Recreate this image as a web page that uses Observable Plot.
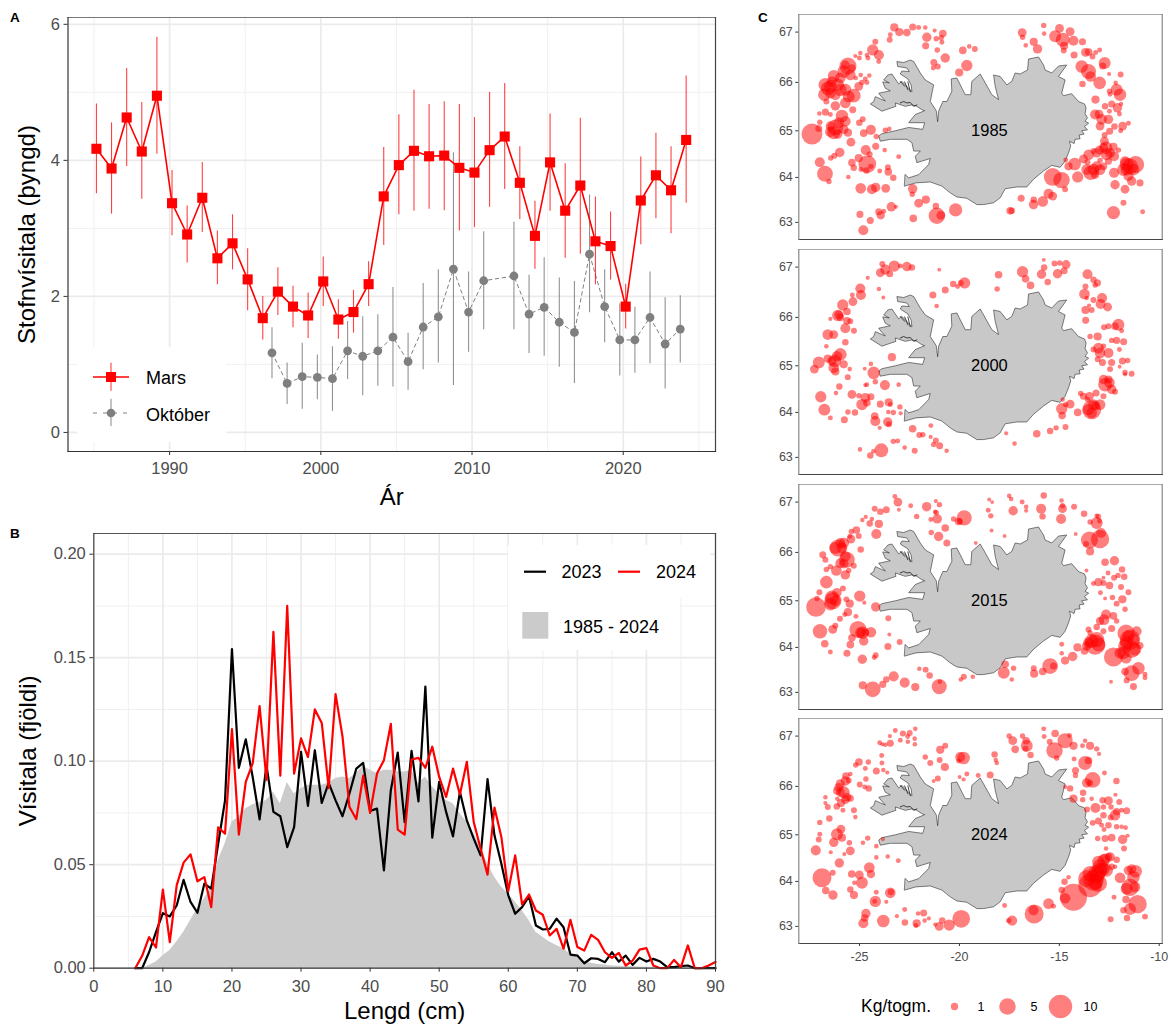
<!DOCTYPE html>
<html lang="is">
<head>
<meta charset="utf-8">
<title>Stofnvísitala</title>
<script src="https://cdn.jsdelivr.net/npm/d3@7"></script>
<script src="https://cdn.jsdelivr.net/npm/@observablehq/plot@0.6"></script>
<style>
html,body{margin:0;padding:0;background:#fff;}
#page{position:relative;width:1173px;height:1025px;overflow:hidden;font-family:"Liberation Sans",Arial,sans-serif;background:#fff;}
#page svg{position:absolute;display:block;overflow:visible;}
.tag{position:absolute;font-weight:bold;font-size:13.5px;line-height:14px;color:#000;}
.keytitle{position:absolute;font-size:17.5px;line-height:20px;color:#000;}
</style>
</head>
<body>
<div id="page"></div>
<script>
// ---------- Panel A ----------
const marsYears = d3.range(1985, 2025);
const marsValue = [4.17,3.88,4.63,4.13,4.95,3.37,2.91,3.45,2.56,2.78,2.25,1.68,2.07,1.85,1.72,2.22,1.66,1.77,2.18,3.47,3.93,4.14,4.06,4.07,3.89,3.82,4.15,4.35,3.67,2.89,3.97,3.26,3.63,2.81,2.74,1.85,3.41,3.78,3.56,4.30];
const marsLow = [3.51,3.21,3.91,3.43,4.09,2.89,2.49,2.94,2.17,2.39,1.79,1.36,1.72,1.54,1.38,1.85,1.37,1.46,1.85,2.75,3.20,3.25,3.28,3.26,2.96,3.01,3.31,3.57,3.13,2.40,3.25,2.56,2.62,2.17,2.24,1.52,2.76,3.14,2.92,3.37];
const marsHigh = [4.83,4.55,5.35,4.85,5.81,3.85,3.33,3.97,2.96,3.20,2.70,2.00,2.42,2.15,2.05,2.58,1.95,2.09,2.51,4.19,4.67,5.03,4.82,4.86,4.82,4.63,5.00,5.13,4.20,3.40,4.68,3.95,4.62,3.46,3.24,2.18,4.05,4.40,4.20,5.24];
const octYears = [1997,1998,1999,2000,2001,2002,2003,2004,2005,2006,2007,2008,2009,2010,2011,2013,2014,2015,2016,2017,2018,2019,2020,2021,2022,2023,2024];
const octValue = [1.17,0.72,0.82,0.81,0.79,1.20,1.12,1.20,1.40,1.04,1.55,1.70,2.40,1.77,2.23,2.30,1.74,1.84,1.62,1.47,2.62,1.85,1.36,1.36,1.69,1.30,1.52];
const octLow = [0.79,0.41,0.34,0.48,0.31,0.78,0.54,0.68,0.67,0.62,0.92,1.02,0.69,1.18,1.51,1.51,1.16,1.12,0.96,0.72,1.76,1.32,0.83,0.87,1.01,0.64,1.02];
const octHigh = [1.54,1.02,1.31,1.14,1.26,1.63,1.70,1.73,2.13,1.46,2.19,2.39,4.11,2.36,2.95,3.09,2.31,2.57,2.27,2.22,3.49,2.39,1.89,1.84,2.36,1.98,2.01];
const marsDodge = 0.16, octDodge = -0.23;
const aTicksX = [1990,2000,2010,2020], aMinorX = [1985,1995,2005,2015,2025];
const aTicksY = [0,2,4,6], aMinorY = [1,3,5];

// ---------- Panel B ----------
const lengths = d3.range(6, 91);
const len2023 = [0,0,0.0077,0.0174,0.0266,0.025,0.0303,0.0427,0.032,0.0268,0.0408,0.0384,0.06,0.0811,0.1542,0.0968,0.1106,0.0924,0.0719,0.098,0.0755,0.0734,0.0585,0.0682,0.1045,0.0784,0.1053,0.0798,0.0895,0.0811,0.0734,0.0843,0.0964,0.0992,0.076,0.0771,0.0473,0.086,0.1042,0.0706,0.105,0.0806,0.136,0.0631,0.09,0.0755,0.0637,0.0851,0.0714,0.0626,0.0545,0.0913,0.0642,0.0505,0.0352,0.0263,0.0295,0.0347,0.0206,0.0187,0.019,0.0239,0.0198,0.0066,0.0061,0.0024,0.0048,0.0045,0.0029,0.0077,0.0032,0.0061,0.0016,0.005,0.0032,0.0045,0.0032,0.0005,0.0005,0.001,0.0013,0,0,0,0];
const len2024 = [0,0.006,0.015,0.01,0.038,0.0126,0.04,0.051,0.055,0.042,0.044,0.0295,0.068,0.065,0.1155,0.0645,0.09,0.099,0.1266,0.091,0.1625,0.093,0.175,0.094,0.111,0.102,0.125,0.1185,0.087,0.1324,0.112,0.078,0.072,0.093,0.075,0.094,0.1005,0.118,0.067,0.0645,0.1008,0.1016,0.0968,0.107,0.0924,0.0827,0.0964,0.0839,0.0997,0.0706,0.0577,0.0452,0.0776,0.0634,0.0373,0.0545,0.0308,0.0356,0.0279,0.0258,0.0158,0.019,0.0094,0.0234,0.0102,0.0085,0.0161,0.0137,0.0077,0.005,0.0074,0.0013,0.0037,0.009,0.0097,0.0013,0,0,0.004,0.0005,0.011,0,0,0.0013,0.003];
const lenMean = [0,0,0.0013,0.003,0.006,0.0085,0.0126,0.0174,0.023,0.0287,0.0335,0.039,0.052,0.06,0.0706,0.073,0.077,0.079,0.08,0.081,0.085,0.0795,0.0897,0.0843,0.0868,0.0884,0.0884,0.0884,0.0895,0.0916,0.0924,0.0916,0.094,0.0977,0.0956,0.094,0.0956,0.0956,0.0948,0.0948,0.0956,0.0892,0.0924,0.0876,0.0843,0.0811,0.0795,0.0747,0.0706,0.065,0.0585,0.0505,0.044,0.0392,0.036,0.032,0.0279,0.023,0.0174,0.015,0.0126,0.011,0.0094,0.0069,0.005,0.0032,0.0024,0.0018,0.0015,0.0011,0.001,0.0008,0.0007,0.0006,0.0005,0.0004,0.0003,0.0002,0.0002,0.0001,0.0001,0,0,0,0];
const bTicksX = d3.range(0, 100, 10), bMinorX = d3.range(5, 95, 10);
const bTicksY = [0,0.05,0.1,0.15,0.2], bMinorY = [0.025,0.075,0.125,0.175];

// ---------- Panel C : Iceland outline (lon, lat) ----------
const iceland = [[-22.74,63.81],[-22.18,63.88],[-21.46,63.9],[-20.88,63.81],[-20.46,63.66],[-20.13,63.57],[-19.63,63.54],[-19.13,63.4],[-18.79,63.4],[-18.29,63.44],[-17.96,63.55],[-17.71,63.75],[-17.13,63.79],[-16.63,63.79],[-16.29,63.96],[-15.79,64.14],[-15.38,64.26],[-14.96,64.22],[-14.71,64.35],[-14.54,64.53],[-14.43,64.68],[-14.49,64.78],[-14.26,64.73],[-14.21,64.82],[-13.96,64.83],[-14.01,64.91],[-13.76,64.93],[-13.88,65],[-13.59,65.02],[-13.74,65.09],[-13.53,65.16],[-13.71,65.2],[-13.59,65.27],[-13.71,65.36],[-13.66,65.48],[-13.74,65.56],[-14.04,65.61],[-14.38,65.77],[-14.79,65.73],[-14.88,65.78],[-14.71,66.05],[-15.04,66.12],[-14.63,66.35],[-15.04,66.33],[-15.38,66.19],[-15.71,66.25],[-15.79,66.35],[-16.04,66.51],[-16.54,66.47],[-16.59,66.25],[-16.96,66.17],[-17.21,66.19],[-17.38,66.02],[-17.63,65.95],[-17.96,66.12],[-18.29,66.15],[-18.21,65.92],[-18.04,65.65],[-18.38,65.75],[-18.79,66.05],[-18.96,66.17],[-19.38,66.02],[-19.43,65.75],[-19.71,65.75],[-20.13,66.09],[-20.41,66.07],[-20.38,65.82],[-20.63,65.61],[-20.83,65.61],[-21.04,65.41],[-21.09,65.19],[-21.16,65.42],[-21.46,65.61],[-21.29,65.95],[-21.71,66.05],[-21.96,66.19],[-22.29,66.42],[-22.46,66.45],[-22.79,66.4],[-23.13,66.42],[-23.09,66.32],[-22.63,66.29],[-22.51,66.22],[-22.88,66.23],[-22.96,66.17],[-22.58,66.07],[-22.41,65.94],[-22.38,65.81],[-22.63,65.92],[-22.88,66.02],[-23.04,65.97],[-23.21,66.07],[-23.38,66.17],[-23.58,66.15],[-23.79,66.05],[-23.51,65.99],[-23.84,66.01],[-23.71,65.88],[-23.46,65.83],[-24.04,65.78],[-23.91,65.71],[-23.71,65.62],[-24.21,65.71],[-24.29,65.61],[-24.46,65.56],[-23.88,65.41],[-23.18,65.51],[-23.21,65.58],[-22.71,65.51],[-22.38,65.54],[-22.13,65.51],[-21.88,65.44],[-21.74,65.42],[-22.21,65.34],[-22.54,65.17],[-21.74,65.17],[-21.84,65.03],[-22.54,65.07],[-23.21,65],[-23.88,64.94],[-24.04,64.89],[-23.96,64.78],[-23.46,64.82],[-22.63,64.82],[-22.38,64.75],[-22.29,64.57],[-21.96,64.57],[-22.21,64.46],[-22.13,64.32],[-21.46,64.41],[-21.54,64.28],[-22.04,64.06],[-22.54,63.99],[-22.71,64.06]];
const fjordLines = [[[-22.96,66.02],[-22.74,65.92]],[[-22.74,66.01],[-22.58,65.85]],[[-22.58,66.01],[-22.46,65.81]],[[-22.96,65.58],[-22.79,65.61],[-22.63,65.58],[-22.46,65.59],[-22.29,65.51],[-22.13,65.54]]];

// ---------- Panel C : stations [lon, lat, kg/tow] ----------
const st1985 = [[-23.26,67.09,.98],[-23.01,67,.98],[-22.63,66.99,.81],[-22.34,67.1,.66],[-22.04,67.09,.2],[-21.71,67.09,.13],[-23.49,66.85,.4],[-23.46,66.95,.2],[-21.63,66.9,1.37],[-21.69,66.73,.66],[-21.24,67.03,.07],[-21.16,66.87,.29],[-20.83,66.97,.81],[-20.91,66.89,.29],[-20.88,66.8,.2],[-21.11,66.65,.29],[-19.83,66.64,.81],[-19.51,66.72,.13],[-19.23,66.67,.4],[-20.71,66.49,1.37],[-21.28,66.4,.66],[-21.08,66.32,.4],[-21.31,66.29,.2],[-19.63,66.34,2.08],[-20.01,66.2,.98],[-24.21,66.81,.4],[-24.34,66.65,2.08],[-24.03,66.55,1.6],[-24.04,66.42,.2],[-24.58,66.49,.2],[-24.63,66.55,.13],[-24.96,66.59,.13],[-25.21,66.53,.07],[-25.01,66.49,.2],[-25.58,66.33,5.07],[-25.79,66.22,2.63],[-25.38,66.29,.81],[-26.29,66.13,2.35],[-26.71,65.95,3.25],[-26.59,65.88,3.25],[-26.09,65.95,2.63],[-25.71,65.85,2.35],[-25.29,65.73,3.25],[-26.76,65.75,2.63],[-26.21,65.75,1.83],[-25.71,65.58,1.83],[-26.21,65.52,1.37],[-26.66,65.61,.4],[-25.04,65.92,1.17],[-24.88,66,.29],[-24.71,66.07,.2],[-24.51,66.14,.13],[-24.63,66,.2],[-24.94,66.15,.13],[-25.19,66.09,.13],[-25.34,65.44,.66],[-27.01,65.36,.13],[-26.71,65.39,.66],[-26.46,65.34,.2],[-25.88,65.31,2.63],[-24.84,65.24,.4],[-25.01,65.17,.52],[-26.99,65.18,.29],[-26.21,65.07,4.3],[-26.29,64.96,2.93],[-27.38,64.93,7.8],[-27.04,65.05,.66],[-25.79,65.03,1.37],[-25.58,64.96,.98],[-24.79,64.95,.81],[-24.43,65.02,1.6],[-25.43,64.76,1.17],[-24.16,64.88,.29],[-23.71,65.01,.29],[-23.51,65.04,.13],[-24.19,64.67,.66],[-23.74,64.59,.13],[-23.04,64.45,.2],[-25.99,64.54,1.37],[-26.26,64.47,.4],[-26.44,64.42,.29],[-24.69,64.59,1.6],[-24.49,64.5,.4],[-25.04,64.42,.98],[-25.38,64.32,.81],[-24.61,64.29,5.5],[-25.29,64.21,.52],[-24.66,64.15,.52],[-24.93,64.17,.2],[-24.43,64.24,.29],[-26.99,64.33,1.6],[-26.73,64.08,4.3],[-26.53,63.91,.29],[-25.56,64.01,.13],[-23.99,64.14,.2],[-23.58,64.22,.4],[-23.56,64.12,.81],[-23.31,63.99,.52],[-24.94,63.76,1.83],[-24.38,63.74,1.6],[-24.19,63.78,1.37],[-23.69,63.76,1.17],[-22.34,63.75,1.37],[-22.36,63.63,.29],[-21.68,63.51,.98],[-22.04,63.43,1.17],[-23.41,63.35,1.37],[-23.18,63.35,.07],[-24.98,63.18,.66],[-24.04,63.24,.66],[-23.94,63.16,.98],[-23.79,63.25,.2],[-24.46,63.04,.66],[-24.81,62.82,1.6],[-22.31,63.09,.81],[-21.18,63.37,.52],[-21.13,63.15,4.67],[-20.93,63.16,1.17],[-20.19,63.28,2.93],
[-16.86,66.99,1.17],[-16.84,66.9,.29],[-15.78,67.13,.29],[-15.76,66.97,.13],[-16.28,66.81,.98],[-16.68,66.74,.13],[-16.09,66.67,1.37],[-15.21,66.92,2.35],[-14.99,67.07,1.17],[-14.46,67.01,1.17],[-14.83,66.85,3.25],[-14.76,66.73,.98],[-14.29,66.83,1.6],[-14.78,66.64,.4],[-13.84,66.81,.66],[-13.69,66.6,1.17],[-13.53,66.61,.81],[-13.34,66.52,.4],[-13.18,66.6,.2],[-12.98,66.65,.2],[-14.26,66.55,.66],[-12.73,66.39,2.35],[-12.83,66.33,.66],[-13.88,66.32,2.63],[-13.54,66.22,3.93],[-13.43,66.12,1.83],[-12.51,66.17,.07],[-11.93,66.16,.4],[-12.98,65.99,2.63],[-13.84,65.97,.52],[-12.18,65.99,.13],[-12.13,65.85,2.35],[-12.49,65.82,.29],[-12.46,65.76,.2],[-11.96,65.75,2.63],[-13.19,65.65,.98],[-12.71,65.51,.52],[-12.38,65.56,.66],[-12.09,65.48,1.37],[-12.49,65.41,.2],[-13.21,65.34,1.6],[-13.01,65.35,1.17],[-12.88,65.24,1.83],[-12.54,65.24,1.37],[-12.96,65.1,1.17],[-12.24,65.09,.52],[-11.83,65.1,1.17],[-11.54,65.16,.2],[-11.93,65,.2],[-12.48,64.99,.66],[-12.73,64.91,.4],[-12.74,64.78,1.17],[-11.99,65.35,.2],[-11.91,65.56,.13],
[-12.66,64.64,2.63],[-12.29,64.66,.98],[-12.99,64.59,1.17],[-13.29,64.57,.4],[-13.53,64.49,1.83],[-13.79,64.4,1.17],[-13.59,64.33,.4],[-12.63,64.5,2.35],[-12.04,64.59,.29],[-12.26,64.46,1.6],[-12.96,64.37,.29],[-13.43,64.1,3.6],[-12.96,64.17,1.83],[-13.21,64.06,.98],[-12.54,64.35,.66],[-12.79,64.24,.81],[-14.23,64.29,2.63],[-14.54,64.24,.98],[-14.68,64.38,.2],[-14.08,64.01,2.08],[-12.26,64.1,1.6],[-11.63,64.28,3.25],[-11.46,64.24,4.3],[-11.18,64.28,5.07],[-11.79,64.17,2.63],[-11.54,64.03,1.6],[-11.38,63.92,1.37],[-10.96,63.88,.66],[-12.21,63.84,1.37],[-11.71,63.74,1.17],[-15.33,64.01,5.5],[-14.89,63.94,4.67],[-14.71,63.74,.4],[-15.54,63.64,1.6],[-15.33,63.59,1.17],[-15.83,63.47,1.83],[-16.28,63.51,.52],[-16.29,63.4,1.37],[-16.91,63.54,.66],[-17.46,63.26,.81],[-17.38,63.26,.52],[-11.79,63.44,.4],[-12.29,63.22,2.93],[-10.83,63.24,.2],
[-26.46,65.92,2.63],[-25.96,66.09,1.83],[-25.46,66.15,1.83],[-25.71,66.35,1.17],[-26.38,66.02,1.6],[-25.54,65.71,2.35],[-26.46,65.78,1.83],[-25.96,65.85,2.63],[-26.04,65.17,1.83],[-25.71,65.2,1.83],[-26.46,65.1,1.37],[-26.46,64.98,1.83],[-26.09,64.93,1.37],[-13.13,64.53,1.37],[-12.79,64.64,1.37],[-12.46,64.53,1.6],[-13.29,64.17,2.35],[-13.63,64.17,1.83],[-13.13,64.24,1.6],[-11.63,64.17,2.35],[-11.29,64.17,2.35],[-11.71,64.35,1.6]];

const st2000 = [[-23.86,67.06,.4],[-23.26,67.02,2.08],[-23.71,66.95,1.6],[-23.96,66.89,1.17],[-23.49,66.87,.66],[-22.96,67.02,.2],[-22.63,67.01,1.37],[-22.38,66.99,.52],[-24.59,66.79,.07],[-21.01,66.95,.03],[-24.96,66.58,1.6],[-24.93,66.45,1.6],[-24.03,66.57,.13],[-23.81,66.4,.03],[-25.36,66.45,.2],[-25.33,66.32,1.17],[-25.84,66.25,2.08],[-25.63,66.12,.81],[-26.09,66.04,2.08],[-25.96,66,.81],[-25.63,65.93,.81],[-26.46,65.97,.07],[-25.46,65.92,.4],[-25.71,65.78,1.6],[-25.28,65.73,.4],[-26.59,65.65,1.83],[-26.29,65.65,1.17],[-25.71,65.49,.52],[-26.66,65.41,.13],[-25.96,65.24,2.63],[-26.59,65.15,.98],[-27.04,65.07,2.35],[-27.26,64.93,1.17],[-26.24,65.1,2.63],[-26.29,64.96,1.83],[-26.21,64.88,.98],[-25.79,65.03,.98],[-25.49,64.93,.13],[-25.59,64.76,.4],[-24.29,64.85,2.63],[-24.43,65.04,.13],[-23.38,65.18,.98],[-24.74,64.94,.03],[-24.21,64.66,.29],[-24.63,64.6,.13],[-24.71,64.59,.07],[-23.73,64.59,1.6],[-23.04,64.6,.13],[-26.01,64.56,.52],[-26.18,64.42,.13],[-26.94,64.34,2.08],[-26.76,64.06,2.35],[-26.46,63.88,.2],[-25.38,64.39,1.17],[-25.03,64.36,.29],[-24.71,64.32,1.37],[-24.88,64.17,2.08],[-24.63,64.21,.81],[-24.43,64.34,.66],[-23.96,64.18,.66],[-23.54,64.22,.98],[-23.46,64.17,.2],[-22.98,64.12,.29],[-23.56,64.01,.13],[-23.31,64,.29],[-22.94,63.98,.07],[-25.58,64.01,.29],[-25.23,64,.52],[-25.76,63.84,.66],[-24.24,63.92,.81],[-24.21,63.81,1.6],[-23.99,63.66,.07],[-23.59,63.79,1.37],[-23.53,63.74,.4],[-22.34,63.64,.81],[-21.43,63.71,.2],[-22.01,63.5,.4],[-21.83,63.51,.29],[-24.98,63.18,.13],[-23.31,63.36,.29],[-23.09,63.37,.2],[-24.31,63.14,.13],[-23.91,63.16,3.25],[-24.46,63.04,.52],[-22.74,63.22,.13],[-22.24,63.15,.4],[-21.44,63.46,.07],[-21.18,63.38,.4],[-21.29,63.29,.29],[-20.99,63.26,.66],[-20.64,63.15,.13],
[-21.33,66.45,.66],[-20.71,66.55,.66],[-20.31,66.67,.52],[-20.09,66.62,.2],[-19.93,66.69,.4],[-19.74,66.69,2.08],[-21.14,66.23,.13],[-18.11,66.57,.29],[-18.04,66.85,.81],[-16.84,66.91,2.08],[-16.69,66.77,.81],[-16.44,66.64,.81],[-15.78,67.14,.03],[-15.76,66.99,.52],[-15.89,66.86,1.37],[-15.24,67.07,.4],[-14.98,67.08,.29],[-14.66,67.05,1.17],[-15.09,66.87,1.37],[-14.76,66.93,.66],[-15.58,66.71,.52],[-13.59,66.86,1.6],[-13.29,66.75,.52],[-13.09,66.69,.66],[-13.21,66.65,.29],[-13.69,66.62,.4],[-13.74,66.47,1.83],[-13.63,66.39,.13],[-13.29,66.35,.4],[-12.86,66.39,1.6],[-12.93,66.27,1.6],[-12.58,66.21,1.17],[-13.69,66.15,.98],[-13.38,66.15,.4],[-13.51,66.24,.07],[-13.68,65.94,.66],[-13.46,65.61,.29],[-13.08,65.61,.98],[-12.76,65.8,.4],[-12.54,65.82,.4],[-12.21,65.82,.81],[-12.04,65.85,2.35],[-11.88,65.73,.2],[-12.38,65.53,.29],[-12.13,65.53,.66],[-11.78,65.5,.66],[-12.79,65.41,.29],[-13.04,65.37,1.83],[-13.29,65.34,.4],[-12.96,65.27,1.83],[-12.54,65.27,1.6],[-13.08,65.14,.4],[-12.84,65.07,.66],[-12.46,64.93,.4],[-12.38,65.07,.66],[-11.84,65.1,.66],[-11.58,65.11,.29],[-11.99,65.34,.2],[-11.71,64.86,.29],[-11.71,64.82,.07],[-11.38,64.83,.4],[-11.98,64.98,.03],
[-12.71,64.6,3.25],[-12.49,64.64,1.83],[-12.38,64.5,1.37],[-12.21,64.45,.4],[-13.16,64.42,.66],[-12.79,64.35,.4],[-12.96,64.17,1.83],[-13.18,64.14,1.17],[-13.38,64.06,6.36],[-13.54,64.06,2.08],[-13.49,64.35,1.17],[-13.79,64.35,.66],[-13.93,64.41,.29],[-13.59,64.28,.29],[-14.08,64,.81],[-14.46,64.18,1.17],[-14.68,64.17,.29],[-14.83,64.28,.13],[-14.88,64.08,2.08],[-14.86,63.93,.81],[-14.69,63.68,.4],[-15.16,63.66,.29],[-15.46,63.59,.52],[-16.13,63.53,.81],[-17.66,63.54,.07],[-17.24,63.31,.13],
[-13.29,64.17,1.83],[-12.79,64.71,1.37],[-12.54,64.71,.98],[-13.38,63.99,1.83],[-26.04,66.05,1.17],[-26.38,65.1,1.37],[-26.13,65.2,1.83]];

const st2015 = [[-23.23,67.11,.2],[-23.08,67,1.17],[-22.44,66.93,.2],[-23.03,66.85,.03],[-24.24,66.87,.4],[-23.96,66.81,.52],[-23.66,66.85,.66],[-21.64,66.91,1.37],[-21.18,67.02,.07],[-21,66.95,.29],[-21.16,66.79,.29],[-21.21,66.81,.13],[-22.14,66.72,.29],[-21.43,66.66,.2],[-21.11,66.67,1.37],[-20.29,66.67,.29],[-20.04,66.62,.81],[-19.76,66.69,3.93],[-19.98,66.62,.4],[-20.71,66.49,.81],[-21.41,66.4,.29],[-21.04,66.32,1.37],[-20.63,66.19,.66],[-24.69,66.71,.07],[-24.86,66.65,.13],[-24.38,66.67,.13],[-24.49,66.58,.52],[-24.03,66.57,.98],[-25.16,66.45,.81],[-25.41,66.42,.29],[-25.49,66.32,.2],[-25.04,66.33,.4],[-24.16,66.37,1.6],[-25.43,66.27,1.17],[-25.79,66.19,1.83],[-26.08,66.09,5.07],[-25.88,66.09,1.83],[-24.94,66.06,.52],[-25.63,65.85,4.3],[-25.79,65.77,1.37],[-25.29,65.73,.4],[-26.84,65.95,.66],[-26.71,65.85,.4],[-26.16,65.63,1.83],[-26.46,65.71,.29],[-26.66,65.65,.29],[-25.71,65.54,1.37],[-25.54,65.63,.29],[-26.66,65.39,2.63],[-27.01,65.18,.4],[-25.83,65.26,.4],[-26.13,65.17,1.37],[-26.33,65,5.07],[-26.21,65,1.83],[-27.18,64.87,6.8],[-27.13,65.05,.29],[-25.66,65.03,.4],[-25.49,64.94,.98],[-24.99,65.1,2.08],[-24.76,64.96,.07],[-24.19,64.87,1.37],[-25.58,64.76,.98],[-25.74,64.71,.2],[-25.18,64.67,.2],[-23.56,64.63,.4],[-25.98,64.62,.4],[-26.34,64.39,1.17],[-26.21,64.47,.4],[-26.98,64.35,3.6],[-25.08,64.39,5.07],[-24.84,64.32,2.63],[-24.71,64.32,.81],[-24.43,64.33,1.83],[-25.38,64.21,.81],[-24.79,64.14,1.37],[-25.46,64.06,.81],[-26.74,64.08,.81],[-26.46,63.9,.2],[-23.51,64.28,.03],[-22.99,64.12,.4],[-23.58,64.02,.66],[-25.63,63.87,.66],[-24.86,63.74,1.37],[-24.19,63.83,.4],[-24.26,63.78,.2],[-22.01,63.53,.13],[-21.69,63.51,.4],[-21.49,63.38,.52],[-23.29,63.36,1.6],[-23.66,63.29,.52],[-23.84,63.18,.66],[-22.74,63.22,1.6],[-22.21,63.12,.98],[-24.84,63.16,.98],[-24.34,63.07,4.3],[-21.01,63.13,3.93],[-20.98,63.24,.13],[-19.93,63.29,.13],[-19.78,63.35,.4],[-19.33,63.35,.13],
[-18.51,67.05,.03],[-18.36,67,.01],[-18.56,66.84,.2],[-18.43,66.73,.29],[-18.39,66.44,.03],[-17.74,66.33,.03],[-19.18,66.19,.02],[-17.51,67.12,.13],[-17.41,67.06,.13],[-16.86,67,.2],[-16.66,66.91,.13],[-16.66,66.83,.07],[-17.31,66.83,1.37],[-15.78,67.13,.52],[-15.91,66.87,1.6],[-15.84,66.72,.52],[-14.89,67.03,.13],[-14.84,66.93,.29],[-14.84,66.87,1.17],[-14.91,66.67,1.6],[-14.26,66.91,.4],[-13.76,66.77,.52],[-13.13,66.73,.13],[-13.04,66.72,.29],[-12.99,66.63,.2],[-13.13,66.59,2.35],[-13.46,66.61,.29],[-14.18,66.37,.03],[-13.49,66.25,5.07],[-12.96,66.27,5.9],[-12.91,66.39,1.6],[-13.66,66.17,.4],[-13.46,66.02,.98],[-12.71,65.8,.81],[-12.24,65.83,1.37],[-11.86,65.65,.52],[-12.56,65.58,.2],[-11.75,65.5,.52],[-12.06,65.53,.29],[-12.26,65.48,.4],[-12.79,65.48,.03],[-13.29,65.36,.2],[-13.04,65.39,.98],[-12.79,65.37,.4],[-12.49,65.32,.81],[-11.91,65.29,.4],[-12.94,65.17,.2],[-12.34,65.07,.29],[-11.54,65.18,.4],[-11.84,65.03,.98],[-12.13,64.94,.4],[-11.71,64.82,.29],[-12.71,65.05,.02],[-13.64,65.63,.03],
[-12.66,64.71,1.6],[-12.29,64.68,.81],[-12.76,64.6,1.83],[-12.96,64.57,.98],[-12.13,64.57,.29],[-13.13,64.44,.52],[-12.79,64.35,.4],[-12.38,64.41,.66],[-13.54,64.39,.4],[-13.46,64.32,.29],[-13.21,64.06,7.3],[-13.13,64.17,3.93],[-13.54,64.1,1.83],[-13.74,63.92,.81],[-14.09,64,.98],[-11.66,64.31,5.07],[-11.46,64.17,7.3],[-11.13,64.35,1.6],[-11.63,64.1,3.25],[-11.38,63.96,5.07],[-11.79,63.88,2.63],[-11.66,63.77,2.08],[-12.29,63.79,6.36],[-10.96,64.04,.66],[-11.04,63.54,2.63],[-11.38,63.43,4.3],[-11.71,63.47,.81],[-11.63,63.27,.4],[-11.29,63.13,.66],[-10.71,63.41,.2],[-10.71,63.33,.2],[-12.41,63.24,.02],[-14.88,64.07,.2],[-14.88,63.87,.13],[-14.71,63.71,.98],[-14.33,63.8,1.37],[-15.46,63.59,4.3],[-15.29,63.59,.66],[-15.83,63.47,.81],[-16.28,63.54,.4],[-16.26,63.42,.98],[-17.71,63.63,.81],[-17.78,63.44,2.35],[-17.29,63.54,.29],[-17.38,63.29,.13],
[-26.21,66.09,2.35],[-25.96,66.19,1.6],[-25.71,65.92,1.83],[-25.96,65.78,1.6],[-26.38,65.07,3.25],[-26.46,64.93,2.63],[-24.96,64.32,1.83],[-13.38,64.14,3.25],[-13.04,64.06,3.25],[-13.63,64.03,1.37],[-11.54,64.24,2.35],[-11.71,64.03,3.25],[-11.29,64.17,2.35],[-11.21,63.96,2.63],[-11.96,63.88,2.08]];

const st2024 = [[-23.21,67.11,.2],[-22.83,67.05,.4],[-22.49,67.06,.4],[-22.21,67.14,.13],[-22.59,66.99,.2],[-22.96,66.92,.2],[-22.24,66.95,.13],[-22.58,66.89,.13],[-22.23,66.84,.13],[-23.48,67,.07],[-23.46,66.86,.66],[-23.71,66.83,.13],[-23.99,66.87,.2],[-23.86,66.84,.07],[-21.71,66.59,.29],[-21.46,66.47,.4],[-20.96,66.73,.98],[-20.71,66.81,.4],[-20.99,66.53,.4],[-20.73,66.39,.98],[-21.08,66.16,.4],[-21.29,66.11,.03],[-19.96,66.59,1.6],[-19.79,66.57,2.63],[-20.04,66.51,.2],[-19.63,66.25,.2],[-19.79,66.14,.07],[-19.99,66.19,.03],[-19.06,66.22,.2],[-18.46,66.23,.66],[-18.24,66.64,.52],[-18.18,66.53,.13],[-18.13,66.47,.13],[-24.56,66.49,.29],[-23.89,66.62,.2],[-23.88,66.47,.2],[-25.03,66.49,.81],[-25.19,66.43,.29],[-24.71,66.36,.2],[-24.16,66.31,.66],[-23.81,66.33,.13],[-23.61,66.28,.07],[-25.68,66.21,.81],[-25.46,66.25,.13],[-24.68,66.15,.29],[-24.99,66.04,.4],[-24.74,65.99,.2],[-24.54,65.96,.52],[-26.04,65.98,1.17],[-25.79,65.88,2.35],[-25.54,66.12,.4],[-26.12,65.91,.98],[-25.71,65.73,1.17],[-25.46,65.76,.66],[-25.93,65.66,.98],[-25.28,65.51,.4],[-26.71,65.78,.13],[-26.71,65.66,.07],[-26.59,65.58,.4],[-26.14,65.59,.52],[-26.11,65.75,.13],[-25.83,65.51,.2],[-25.21,65.37,.13],[-26.51,65.34,.52],[-26.99,65.26,.29],[-25.93,65.12,1.17],[-26.13,65.01,2.35],[-26.99,65.01,.2],[-27.04,64.9,.4],[-25.88,64.94,.98],[-26.29,64.84,1.37],[-25.51,64.83,.29],[-27.19,64.67,1.6],[-24.83,64.83,.13],[-24.59,64.93,.29],[-23.83,64.91,.07],[-24.16,64.76,.13],[-25.46,64.66,1.17],[-25.76,64.59,.07],[-26.44,64.63,.07],[-26.01,64.4,1.37],[-24.16,64.52,.13],[-23.59,64.54,.13],[-23.06,64.45,.2],[-24.51,64.3,1.83],[-24.43,64.16,.98],[-26.88,64.08,6.36],[-26.34,64.19,.4],[-26.69,63.8,.81],[-26.33,63.7,1.37],[-25.39,64.16,.81],[-25.01,64.14,1.17],[-24.88,63.97,2.35],[-25.26,63.97,.13],[-25.46,63.82,.52],[-25.28,63.7,.98],[-24.16,63.76,.2],[-23.46,63.75,1.83],[-23.43,63.77,.52],[-24.21,63.56,2.08],[-24.24,63.56,.2],[-23.66,63.55,.07],[-22.74,63.38,.2],[-22.07,63.29,.13],[-21.79,63.3,.66],[-21.53,63.18,.07],[-23.13,63.23,.07],[-24.68,63.29,1.37],[-24.74,63.19,.81],[-24.81,63.07,1.6],[-23.81,63.12,2.63],[-22.73,63.09,.52],[-22.14,63.07,.98],[-22.18,63.02,.2],[-21.74,63.13,.13],[-21.21,63.04,.07],[-21.01,63,1.17],[-20.86,63.13,.52],[-20.51,63.03,2.08],[-19.91,63.17,5.5],
[-17.51,67,.29],[-17.33,66.91,1.17],[-17.21,66.74,.81],[-16.84,67,.29],[-16.66,66.91,.81],[-16.63,66.81,2.35],[-16.69,66.75,.4],[-16.44,66.63,.52],[-15.78,67.14,.2],[-15.76,66.99,.2],[-15.21,67.05,.81],[-15.48,66.89,.4],[-15.13,66.57,.29],[-15.24,66.72,4.67],[-14.71,66.91,3.93],[-14.49,67.01,.2],[-14.29,66.81,.98],[-13.84,66.81,.2],[-13.71,66.91,.13],[-13.46,66.81,.98],[-13.13,66.75,.29],[-13.01,66.65,.07],[-14.26,66.55,.2],[-13.71,66.47,3.25],[-13.54,66.52,.81],[-14.19,66.32,.66],[-14.19,66.22,.29],[-12.74,66.27,.2],[-13.33,66.13,4.3],[-13.63,66.07,1.37],[-13.46,66.07,.4],[-12.14,66.11,.52],[-14.71,65.99,.07],[-14.46,65.96,.52],[-13.81,65.87,.52],[-12.19,65.83,.07],[-14.29,65.75,.98],[-13.83,65.73,.29],[-13.38,65.75,.13],[-12.83,65.72,.52],[-12.54,65.71,1.17],[-12,65.68,.4],[-13.61,65.53,.4],[-13.19,65.56,1.6],[-12.79,65.58,.29],[-12.41,65.58,.29],[-12.13,65.48,.81],[-11.88,65.51,.2],[-11.63,65.5,.66],[-12.79,65.41,.52],[-13.04,65.29,.66],[-13.33,65.25,.4],[-12.21,65.41,1.83],[-12.43,65.36,.4],[-12.54,65.2,.52],[-12.88,65.2,.2],[-12.76,65.11,.2],[-12.13,65.17,.29],[-11.88,65.17,.13],[-11.68,65.15,.13],[-13.08,64.92,.29],[-12.71,64.92,.66],[-12.38,64.94,.81],[-11.83,64.9,1.37],[-11.58,64.98,.07],[-11.76,64.71,.4],[-12.66,64.71,.13],
[-12.54,64.53,.81],[-12.13,64.47,.52],[-12.79,64.45,2.63],[-12.96,64.31,4.3],[-13.13,64.17,5.07],[-13.29,64.02,7.3],[-13.46,63.91,9.9],[-13.04,63.96,5.07],[-12.63,64.24,2.63],[-12.38,64.32,.52],[-12.21,64.32,.13],[-11.96,64.08,1.83],[-11.54,64.24,1.37],[-11.18,64.22,2.63],[-11.46,63.87,5.07],[-11.21,63.88,1.83],[-11.63,63.84,2.35],[-11.66,63.6,.81],[-12.26,63.65,.2],[-11.08,63.5,5.9],[-11.46,63.39,2.35],[-11.79,63.36,.52],[-11.61,63.19,.52],[-12.43,63.16,.4],[-10.71,63.22,.4],[-14.54,64.09,.13],[-14.74,63.99,.52],[-14.88,63.81,.52],[-14.29,63.65,13],[-14.71,63.63,1.83],[-15.54,63.51,1.83],[-15.29,63.45,.2],[-16.26,63.28,6.36],[-16.29,63.36,1.6],[-17.36,63.13,1.6],[-17.53,63.13,.29],[-17.74,63.47,.2],
[-13.13,64.13,4.3],[-13.46,64.17,3.93],[-12.96,64.24,3.93],[-13.21,63.99,3.93],[-12.79,64.27,2.63],[-13.04,64.42,2.63],[-12.71,64.49,1.83],[-12.46,64.53,1.37],[-13.63,64.06,5.07],[-25.96,66.05,1.37],[-25.71,66.11,1.37],[-25.96,65.88,1.17],[-25.63,65.78,1.17],[-11.38,64.27,1.37],[-11.29,64.09,2.63]];

const latTicks = [63,64,65,66,67], lonTicks = [-25,-20,-15,-10];
const keyValues = [1,5,10];
const mapYears = [1985,2000,2015,2024];
const mapSets = [st1985,st2000,st2015,st2024];
const mapTops = [14,249,484,718];
const smallBubbleRead = 0.25; // blurred small bubbles were read slightly too small

// ---------- shared ----------
const page = document.getElementById("page");
const RED = "#ff0000", GREY = "#7f7f7f", FONT = "Liberation Sans, Arial, sans-serif";
const GRID = "#ebebeb", GRID2 = "#f0f0f0", TICK = "#4d4d4d";
const place = (el, left, top) => { el.style.left = left + "px"; el.style.top = top + "px"; page.appendChild(el); return el; };
const border = (top, right, bottom, left) => [
  Plot.frame({anchor:"top", stroke:top, strokeWidth:1.2}),
  Plot.frame({anchor:"right", stroke:right, strokeWidth:1.2}),
  Plot.frame({anchor:"bottom", stroke:bottom, strokeWidth:1.2}),
  Plot.frame({anchor:"left", stroke:left, strokeWidth:1.2})
];
const tag = (t, l, top) => { const d = document.createElement("div"); d.className = "tag"; d.textContent = t; d.style.left = l+"px"; d.style.top = top+"px"; page.appendChild(d); };

// ---------- Panel A ----------
const mars = marsYears.map((y,i) => ({x:y+marsDodge, v:marsValue[i], lo:marsLow[i], hi:marsHigh[i]}));
const oct = octYears.map((y,i) => ({x:y+octDodge, v:octValue[i], lo:octLow[i], hi:octHigh[i]}));
place(Plot.plot({
  width:730, height:515, marginLeft:67.5, marginRight:15, marginTop:17, marginBottom:64,
  style:{fontFamily:FONT, background:"transparent", overflow:"visible"},
  x:{domain:[1983.28,2026.1]}, y:{domain:[-0.28,6.1]},
  marks:[
    Plot.ruleY(aMinorY,{stroke:GRID2,strokeWidth:1}),
    Plot.ruleX(aMinorX,{stroke:GRID2,strokeWidth:1}),
    Plot.ruleY(aTicksY,{stroke:GRID,strokeWidth:1.7}),
    Plot.ruleX(aTicksX,{stroke:GRID,strokeWidth:1.7}),
    Plot.ruleX(oct,{x:"x",y1:"lo",y2:"hi",stroke:GREY,strokeWidth:1.1,strokeOpacity:.85}),
    Plot.line(oct,{x:"x",y:"v",stroke:GREY,strokeWidth:1,strokeDasharray:"3.5,3.5"}),
    Plot.dot(oct,{x:"x",y:"v",r:4.4,fill:GREY}),
    Plot.ruleX(mars,{x:"x",y1:"lo",y2:"hi",stroke:RED,strokeWidth:1.1,strokeOpacity:.75}),
    Plot.line(mars,{x:"x",y:"v",stroke:RED,strokeWidth:1.6}),
    Plot.dot(mars,{x:"x",y:"v",symbol:"square",r:5.7,fill:RED}),
    Plot.axisX({ticks:aTicksX,tickFormat:d=>String(d),label:null,tickSize:4,tickPadding:7,fontSize:16.5,stroke:"#333",fill:TICK}),
    Plot.axisY({ticks:aTicksY,tickFormat:d=>String(d),label:null,tickSize:4,tickPadding:4,fontSize:16.5,stroke:"#333",fill:TICK}),
    ...border("#777","#444","#333","#333"),
    Plot.text(["Ár"],{frameAnchor:"bottom",dy:53,fontSize:24,fill:"#000"}),
    Plot.text(["Stofnvísitala (þyngd)"],{frameAnchor:"left",textAnchor:"middle",dx:-40.5,rotate:-90,fontSize:24,fill:"#000"})
  ]
}), 0, 0);
tag("A",10,11);

const legendA = d3.create("svg").attr("width",149).attr("height",95).style("font-family",FONT);
legendA.append("rect").attr("width",149).attr("height",95).attr("fill","#fff");
legendA.append("line").attr("x1",16).attr("x2",52).attr("y1",30).attr("y2",30).attr("stroke",RED).attr("stroke-width",1.6);
legendA.append("line").attr("x1",34).attr("x2",34).attr("y1",15.7).attr("y2",43.7).attr("stroke",RED).attr("stroke-opacity",.75).attr("stroke-width",1.1);
legendA.append("rect").attr("x",29).attr("y",25).attr("width",10).attr("height",10).attr("fill",RED);
legendA.append("line").attr("x1",16).attr("x2",52).attr("y1",66).attr("y2",66).attr("stroke",GREY).attr("stroke-dasharray","4,6");
legendA.append("line").attr("x1",34).attr("x2",34).attr("y1",51.7).attr("y2",79).attr("stroke",GREY).attr("stroke-opacity",.85).attr("stroke-width",1.1);
legendA.append("circle").attr("cx",34).attr("cy",66).attr("r",4.3).attr("fill",GREY);
legendA.append("text").attr("x",69).attr("y",37).attr("font-size",18).text("Mars");
legendA.append("text").attr("x",69).attr("y",74).attr("font-size",18).text("Október");
place(legendA.node(),77,347);

// ---------- Panel B ----------
const rows = (vals) => lengths.map((l,i) => ({l, v:vals[i]}));
place(Plot.plot({
  width:730, height:505, marginLeft:93.3, marginRight:15, marginTop:13, marginBottom:57.3,
  style:{fontFamily:FONT, background:"transparent", overflow:"visible"},
  x:{domain:[0,90]}, y:{domain:[0,0.21]},
  marks:[
    Plot.ruleY(bMinorY,{stroke:GRID2,strokeWidth:1}),
    Plot.ruleX(bMinorX,{stroke:GRID2,strokeWidth:1}),
    Plot.ruleY(bTicksY,{stroke:GRID,strokeWidth:1.7}),
    Plot.ruleX(bTicksX,{stroke:GRID,strokeWidth:1.7}),
    Plot.areaY(rows(lenMean),{x:"l",y:"v",fill:"#cbcbcb"}),
    Plot.line(rows(len2023),{x:"l",y:"v",stroke:"#000",strokeWidth:2.2}),
    Plot.line(rows(len2024),{x:"l",y:"v",stroke:RED,strokeWidth:2.2}),
    Plot.axisX({ticks:bTicksX,tickFormat:d=>String(d),label:null,tickSize:4,tickPadding:8,fontSize:16.5,stroke:"#333",fill:TICK}),
    Plot.axisY({ticks:bTicksY,tickFormat:d=>d.toFixed(2),label:null,tickSize:4,tickPadding:4,fontSize:16.5,stroke:"#333",fill:TICK}),
    ...border("#555","#444","#333","#444"),
    Plot.text(["Lengd (cm)"],{frameAnchor:"bottom",dy:51,fontSize:24,fill:"#000"}),
    Plot.text(["Vísitala (fjöldi)"],{frameAnchor:"left",textAnchor:"middle",dx:-65,rotate:-90,fontSize:24,fill:"#000"})
  ]
}), 0, 520);
tag("B",10,527);

const legendB = d3.create("svg").attr("width",202).attr("height",105).style("font-family",FONT);
legendB.append("rect").attr("width",202).attr("height",52).attr("fill","#fff");
legendB.append("rect").attr("y",52).attr("width",172).attr("height",53).attr("fill","#fff");
legendB.append("line").attr("x1",16).attr("x2",38).attr("y1",26.7).attr("y2",26.7).attr("stroke","#000").attr("stroke-width",2.2);
legendB.append("text").attr("x",53.5).attr("y",33).attr("font-size",18).text("2023");
legendB.append("line").attr("x1",110).attr("x2",132).attr("y1",26.7).attr("y2",26.7).attr("stroke",RED).attr("stroke-width",2.2);
legendB.append("text").attr("x",148).attr("y",33).attr("font-size",18).text("2024");
legendB.append("rect").attr("x",14.3).attr("y",67).attr("width",26).attr("height",26.7).attr("fill","#cbcbcb");
legendB.append("text").attr("x",55).attr("y",87.5).attr("font-size",18).text("1985 - 2024");
place(legendB.node(),508,545);

// ---------- Panel C ----------
const merc = lat => Math.log(Math.tan(Math.PI/4 + lat*Math.PI/360))*180/Math.PI;
const rScale = {type:"sqrt", domain:[0,10], range:[0,11.7]};
const fjordRows = fjordLines.flatMap((ln,i) => ln.map(p => ({z:i, lon:p[0], lat:p[1]})));
mapYears.forEach((yr,k) => {
  const last = k === mapYears.length-1;
  const mb = last ? 30 : 4;
  place(Plot.plot({
    width:423, height:225+4+mb, marginLeft:48.3, marginRight:11.3, marginTop:4, marginBottom:mb,
    style:{fontFamily:FONT, background:"transparent", overflow:"visible"},
    x:{domain:[-28.04,-9.85],axis:null},
    y:{domain:[merc(62.61),merc(67.34)],axis:null},
    r:rScale,
    marks:[
      Plot.line(iceland,{x:d=>d[0],y:d=>merc(d[1]),curve:"linear-closed",fill:"#c8c8c8",stroke:"#1a1a1a",strokeWidth:.55}),
      Plot.line(fjordRows,{x:"lon",y:d=>merc(d.lat),z:"z",stroke:"#1a1a1a",strokeWidth:.8}),
      Plot.dot(mapSets[k],{x:d=>d[0],y:d=>merc(d[1]),r:d=>d[2]+smallBubbleRead,fill:RED,fillOpacity:.5,stroke:"none"}),
      Plot.text([String(yr)],{x:[-18.5],y:[merc(65)],fontSize:16.5,fill:"#000"}),
      Plot.axisY({ticks:latTicks.map(merc),tickFormat:v=>String(latTicks[d3.bisectCenter(latTicks.map(merc),v)]),label:null,tickSize:3,tickPadding:3,fontSize:12.5,stroke:"#333",fill:TICK}),
      last ? Plot.axisX({ticks:lonTicks,tickFormat:d=>String(d),label:null,tickSize:3,tickPadding:6,fontSize:12.5,stroke:"#333",fill:TICK}) : null,
      ...border("#aaa","#888","#444","#888")
    ]
  }), 750, mapTops[k]-4);
});
tag("C",758,11);

const kt = document.createElement("div");
kt.className = "keytitle"; kt.textContent = "Kg/togm.";
place(kt, 861, 996);
place(Plot.plot({
  width:200, height:40, margin:0,
  style:{fontFamily:FONT, background:"transparent", overflow:"visible"},
  x:{type:"point",domain:keyValues,range:[23,130],padding:0,axis:null},
  r:rScale,
  marks:[
    Plot.dot(keyValues,{x:d=>d,frameAnchor:"middle",r:d=>d,fill:RED,fillOpacity:.5}),
    Plot.text(keyValues,{x:d=>d,text:d=>String(d),frameAnchor:"middle",dx:23,textAnchor:"start",fontSize:12.5,fill:"#000"})
  ]
}), 930, 986);
</script>
</body>
</html>
